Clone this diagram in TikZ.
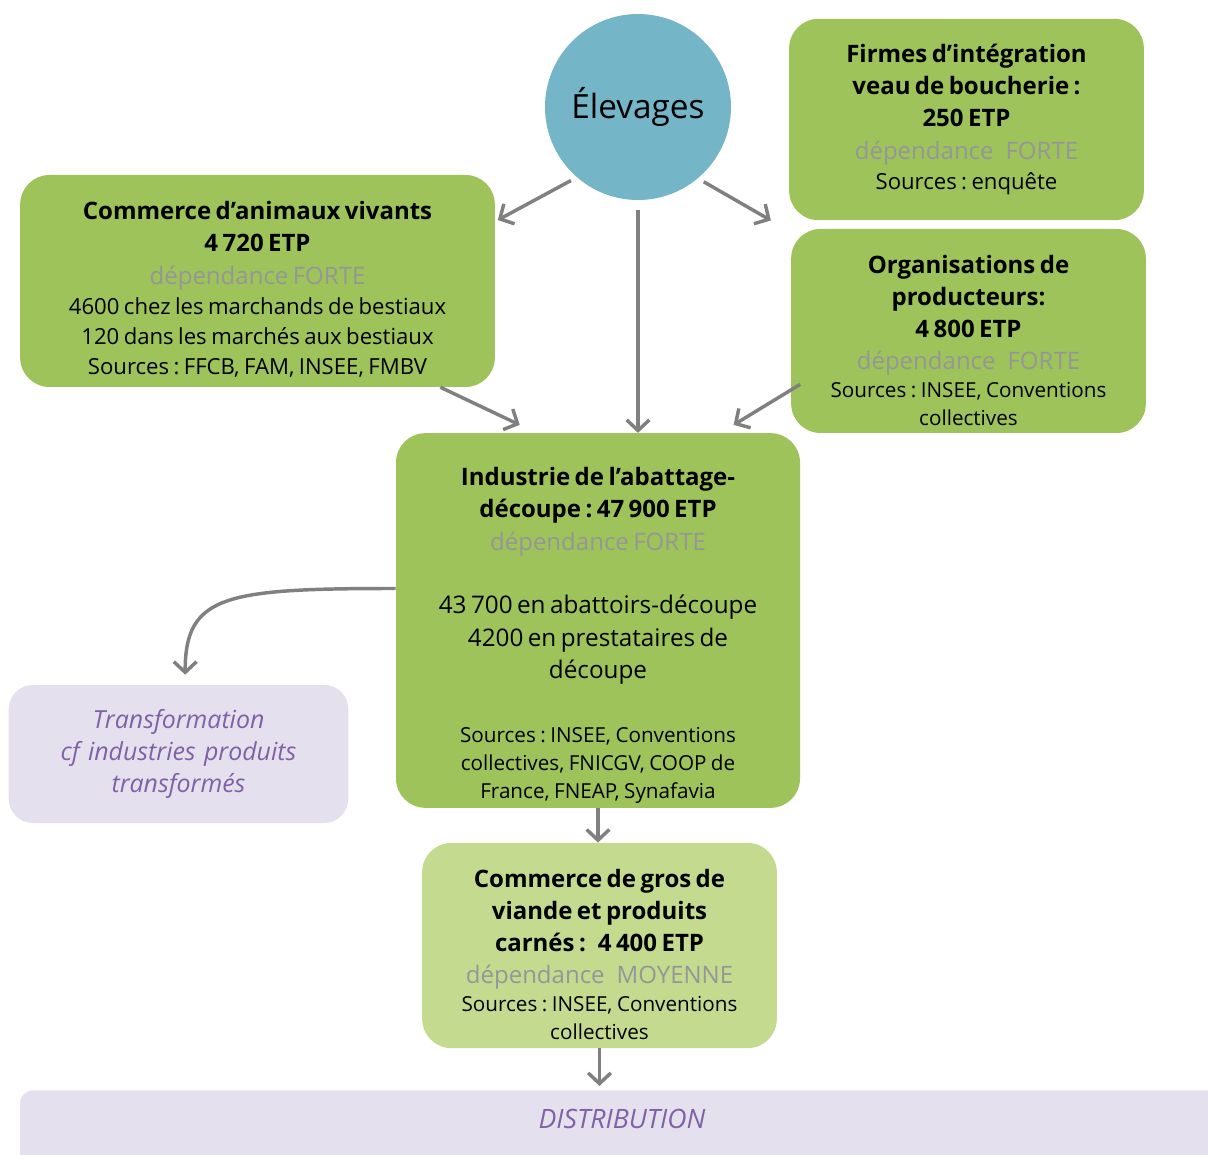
\documentclass[tikz,border=0pt]{standalone}
\usepackage{fontspec}
\setmainfont{Open Sans}
\usetikzlibrary{positioning,arrows.meta}
\frenchspacing

\definecolor{boxgreen}{HTML}{9DC35A}
\definecolor{lightgreen}{HTML}{C4DB8F}
\definecolor{elevblue}{HTML}{74B5C7}
\definecolor{lavender}{HTML}{E5E0ED}
\definecolor{violet}{HTML}{7F62A6}
\definecolor{depgray}{HTML}{969696}
\definecolor{arrgray}{HTML}{808080}

% tailles de texte dans les blocs
\newcommand{\hdtxt}{\fontsize{18}{24}\selectfont\bfseries\color{black}}
\newcommand{\deptxt}{\fontsize{18}{24.5}\selectfont\mdseries\color{depgray}}
\newcommand{\bodytxt}{\fontsize{16.6}{22.5}\selectfont\mdseries\color{black}}
\newcommand{\midtxt}{\fontsize{18.2}{24.5}\selectfont\mdseries\color{black}}
\newcommand{\srctxt}{\fontsize{15.5}{21}\selectfont\mdseries\color{black}}
\newcommand{\pullup}[1]{\endgraf\vspace*{-#1}}

\begin{document}
\begin{tikzpicture}[x=0.75pt,y=-0.75pt,
    block/.style={rectangle, rounded corners=22pt, fill=boxgreen, align=center, inner sep=2pt},
    lblock/.style={block, fill=lightgreen},
    textdown/.style={execute at end node={\pullup{#1}}},
    purpblock/.style={rectangle, rounded corners=18pt, fill=lavender, align=center,
        text=violet, font=\fontsize{18.7}{24}\selectfont\itshape},
    flow/.style={-{Straight Barb[length=8pt,width=17pt]}, draw=arrgray, line width=2.6pt}
]
    \clip (0,0) rectangle (1208,1155);

    \node[circle, fill=elevblue, minimum size=139.5pt, font=\fontsize{25}{28}\selectfont] (elev) at (638,107) {Élevages};

    \node[block, textdown=12pt, minimum width=356pt, minimum height=159pt, text width=350pt] (commblock) at (257.5,281) {%
        \hdtxt Commerce d’animaux vivants\\
        4 720 ETP\\
        \deptxt dépendance FORTE\\
        \bodytxt 4600 chez les marchands de bestiaux\\
        120 dans les marchés aux bestiaux\\
        Sources : FFCB, FAM, INSEE, FMBV\endgraf};

    \node[block, minimum width=266pt, minimum height=151pt, text width=260pt] (firmblock) at (966.5,119.5) {%
        \hdtxt Firmes d’intégration\\
        veau de boucherie :\\
        250 ETP\\
        \deptxt dépendance\enspace FORTE\\
        \bodytxt Sources : enquête\endgraf};

    \node[block, textdown=14pt, minimum width=266pt, minimum height=153pt, text width=260pt] (orgblock) at (968.5,331) {%
        \hdtxt Organisations de\\
        producteurs:\\
        4 800 ETP\\
        \deptxt dépendance\enspace FORTE\\
        \srctxt Sources : INSEE, Conventions\\
        collectives\endgraf};

    \node[block, textdown=22.5pt, minimum width=303pt, minimum height=281pt, text width=296pt] (indblock) at (598,620.5) {%
        \hdtxt Industrie de l’abattage-\\
        découpe : 47 900 ETP\\
        \deptxt dépendance FORTE\\[23pt]
        \midtxt 43 700 en abattoirs-découpe\\
        4200 en prestataires de\\
        découpe\\[27pt]
        \srctxt Sources : INSEE, Conventions\\
        collectives, FNICGV, COOP de\\
        France, FNEAP, Synafavia\endgraf};

    \node[lblock, textdown=13.5pt, minimum width=266pt, minimum height=154pt, text width=260pt] (grosblock) at (599.5,945.5) {%
        \hdtxt Commerce de gros de\\
        viande et produits\\
        carnés :\enspace 4 400 ETP\\
        \deptxt dépendance\enspace MOYENNE\\
        \srctxt Sources : INSEE, Conventions\\
        collectives\endgraf};

    \node[purpblock, minimum width=254pt, minimum height=103.5pt, text width=248pt] (transblock) at (178.5,754) {%
        Transformation\\
        cf industries produits\\
        transformés\endgraf};

    \node[purpblock, rounded corners=10pt, anchor=north, inner sep=0pt, minimum width=903pt,
        font=\fontsize{20}{24}\selectfont\itshape,
        text height=28.5pt, text depth=35pt] (distblock) at (622,1090) {DISTRIBUTION};

    % flux depuis les elevages
    \draw[flow, shorten <=5pt] (elev.229) -- ([xshift=2pt,yshift=-34pt]commblock.north east);
    \draw[flow, shorten <=5pt] (elev.310) -- ([xshift=-13.5pt]firmblock.south west);
    \draw[flow, shorten <=7pt] (elev.south) -- (elev.south |- indblock.north);

    % vers l'abattage
    \draw[flow] ([xshift=-41pt]commblock.south east) -- ([xshift=93pt,yshift=6pt]indblock.north west);
    \draw[flow] ([xshift=7pt,yshift=-40pt]orgblock.west) -- ([xshift=-50pt,yshift=6pt]indblock.north east);

    % en aval
    \draw[flow] ([yshift=24pt]indblock.west) .. controls +(-170,0) and +(0,-80) .. ([xshift=5pt,yshift=7.5pt]transblock.north);
    \draw[flow] (indblock.south) -- (indblock.south |- grosblock.north);
    \draw[flow, shorten >=3pt] (grosblock.south) -- (grosblock.south |- distblock.north);
\end{tikzpicture}
\end{document}
